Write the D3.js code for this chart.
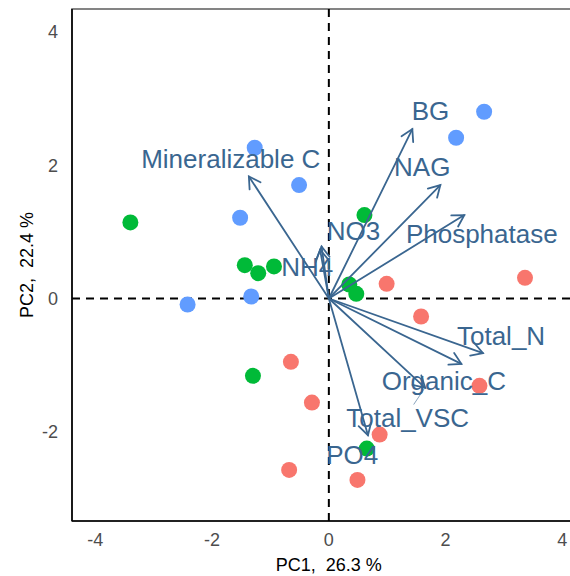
<!DOCTYPE html>
<html>
<head>
<meta charset="utf-8">
<script src="https://cdn.jsdelivr.net/npm/d3@7"></script>
<style>
  body { margin: 0; background: #fff; }
  svg { display: block; font-family: "Liberation Sans", Arial, sans-serif; }
</style>
</head>
<body>
<div id="chart"></div>
<script>
// individuals (PC1, PC2) and their group
var indX = [2.66, 2.18, -1.27, -0.51, -1.52, -1.33, -2.42,
            -3.40, -1.44, -1.21, -0.94, 0.61, 0.35, 0.47, -1.30, 0.65,
            3.36, 0.99, 1.58, -0.65, -0.29, 2.58, 0.87, -0.68, 0.49];
var indY = [2.80, 2.41, 2.26, 1.70, 1.21, 0.03, -0.09,
            1.14, 0.50, 0.38, 0.48, 1.25, 0.21, 0.07, -1.16, -2.25,
            0.31, 0.22, -0.27, -0.95, -1.56, -1.31, -2.04, -2.57, -2.72];
var indGroup = ["c","c","c","c","c","c","c",
                "b","b","b","b","b","b","b","b","b",
                "a","a","a","a","a","a","a","a","a"];
var groupColors = {a: "#F8766D", b: "#00BA38", c: "#619CFF"};

// variables: arrow tips and repelled label spots
var varNames = ["BG", "NAG", "Phosphatase", "Mineralizable C", "NO3", "NH4",
                "Total_N", "Organic_C", "Total_VSC", "PO4"];
var varX = [1.43, 1.91, 2.32, -1.37, -0.125, -0.15, 2.64, 2.27, 1.65, 0.67];
var varY = [2.54, 1.70, 1.25, 1.83, 0.78, 0.73, -0.82, -0.98, -1.34, -2.05];
var labX = [1.74, 1.60, 2.62, -1.68, 0.42, -0.37, 2.95, 1.97, 1.35, 0.40];
var labY = [2.67, 1.83, 0.83, 1.95, 0.88, 0.33, -0.70, -1.37, -1.92, -2.48];

var xTicks = [-4, -2, 0, 2, 4];
var yTicks = [-2, 0, 2, 4];
var xTitle = "PC1,  26.3 %", yTitle = "PC2,  22.4 %";

var width = 570, height = 576,
    varColor = "#3A6690";

var x = d3.scaleLinear().domain([-4.40, 4.40]).range([72, 585.7]);
var y = d3.scaleLinear().domain([-3.336, 4.34]).range([521, 9]);

var svg = d3.select("#chart").append("svg")
  .attr("width", width)
  .attr("height", height);

svg.append("defs").append("clipPath").attr("id", "panel")
  .append("rect").attr("x", 72).attr("y", 9).attr("width", 514).attr("height", 512);

// panel border (grey) then black axis lines
svg.append("rect")
  .attr("x", 72).attr("y", 9).attr("width", 514).attr("height", 512)
  .attr("fill", "none").attr("stroke", "#666").attr("stroke-width", 1.6);

var plot = svg.append("g").attr("clip-path", "url(#panel)");

// reference lines
plot.append("line")
  .attr("x1", x.range()[0]).attr("x2", x.range()[1])
  .attr("y1", y(0)).attr("y2", y(0))
  .attr("stroke", "#000").attr("stroke-width", 2).attr("stroke-dasharray", "8,6");
plot.append("line")
  .attr("x1", x(0)).attr("x2", x(0))
  .attr("y1", y.range()[0]).attr("y2", y.range()[1])
  .attr("stroke", "#000").attr("stroke-width", 2).attr("stroke-dasharray", "8,6");

// points
plot.selectAll(".ind")
  .data(indX.map(function(d, i){ return {x: d, y: indY[i], g: indGroup[i]}; }))
  .enter()
  .append("circle")
  .attr("class", "ind")
  .attr("cx", function(d){ return x(d.x); })
  .attr("cy", function(d){ return y(d.y); })
  .attr("r", 8)
  .attr("fill", function(d){ return groupColors[d.g]; });

// arrows
var vars = varNames.map(function(n, i){
  return {name: n, x: varX[i], y: varY[i], lx: labX[i], ly: labY[i]};
});

var arrows = plot.selectAll(".var")
  .data(vars)
  .enter()
  .append("g")
  .attr("class", "var")
  .attr("stroke", varColor)
  .attr("stroke-width", 1.8)
  .attr("fill", "none")
  .attr("stroke-linecap", "round");

arrows.append("line")
  .attr("x1", x(0)).attr("y1", y(0))
  .attr("x2", function(d){ return x(d.x); })
  .attr("y2", function(d){ return y(d.y); });

arrows.append("path")
  .attr("d", function(d){
    var tx = x(d.x), ty = y(d.y),
        ang = Math.atan2(ty - y(0), tx - x(0)),
        len = 13, spread = Math.PI / 6,
        a1 = ang + Math.PI - spread, a2 = ang + Math.PI + spread;
    return "M" + (tx + len * Math.cos(a1)) + "," + (ty + len * Math.sin(a1)) +
           "L" + tx + "," + ty +
           "L" + (tx + len * Math.cos(a2)) + "," + (ty + len * Math.sin(a2));
  });

// repel segment for Total_VSC
var vsc = vars[8];
plot.append("line")
  .attr("x1", x(vsc.x) - 1).attr("y1", y(vsc.y) + 1)
  .attr("x2", x(vsc.lx) + 6).attr("y2", y(vsc.ly) - 22)
  .attr("stroke", varColor).attr("stroke-width", 0.6);

// labels
plot.selectAll(".var-label")
  .data(vars)
  .enter()
  .append("text")
  .attr("class", "var-label")
  .attr("x", function(d){ return x(d.lx); })
  .attr("y", function(d){ return y(d.ly); })
  .attr("text-anchor", "middle")
  .attr("fill", varColor)
  .style("font-size", "26px")
  .text(function(d){ return d.name; });

// axis lines
svg.append("line").attr("x1", 72).attr("x2", 72).attr("y1", 9).attr("y2", 521)
  .attr("stroke", "#000").attr("stroke-width", 1.6);
svg.append("line").attr("x1", 72).attr("x2", 586).attr("y1", 521).attr("y2", 521)
  .attr("stroke", "#000").attr("stroke-width", 1.6);

// tick labels
svg.selectAll(".xt")
  .data(xTicks)
  .enter()
  .append("text")
  .attr("x", function(d){ return x(d); })
  .attr("y", 546)
  .attr("text-anchor", "middle")
  .attr("fill", "#4D4D4D")
  .style("font-size", "18px")
  .text(function(d){ return d; });

svg.selectAll(".yt")
  .data(yTicks)
  .enter()
  .append("text")
  .attr("x", 58)
  .attr("y", function(d){ return y(d); })
  .attr("dy", "0.36em")
  .attr("text-anchor", "end")
  .attr("fill", "#4D4D4D")
  .style("font-size", "18px")
  .text(function(d){ return d; });

// titles
svg.append("text")
  .attr("x", (x.range()[0] + x.range()[1]) / 2)
  .attr("y", 571)
  .attr("text-anchor", "middle")
  .style("font-size", "18px")
  .style("white-space", "pre")
  .attr("xml:space", "preserve")
  .text(xTitle);

svg.append("text")
  .attr("transform", "translate(33," + ((y.range()[0] + y.range()[1]) / 2) + ") rotate(-90)")
  .attr("text-anchor", "middle")
  .style("font-size", "18px")
  .style("white-space", "pre")
  .attr("xml:space", "preserve")
  .text(yTitle);
</script>
</body>
</html>
